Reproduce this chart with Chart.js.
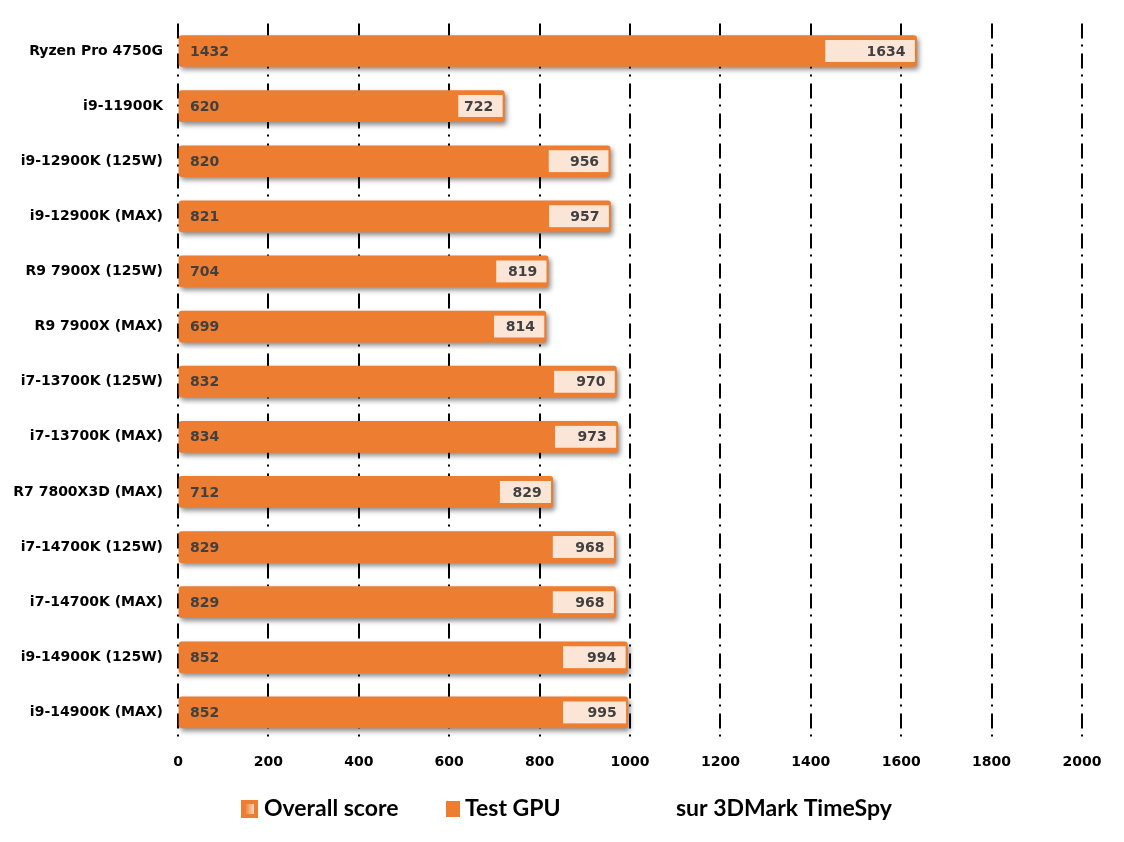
<!DOCTYPE html>
<html>
<head>
<meta charset="utf-8">
<title>3DMark TimeSpy</title>
<script src="https://cdn.jsdelivr.net/npm/chart.js@4/dist/chart.umd.min.js"></script>
<style>
    body { margin: 0; background: #fff; }
    #chart-wrap { width: 1124px; height: 842px; }
</style>
</head>
<body>
<div id="chart-wrap"><canvas id="score-chart" width="1124" height="842"></canvas></div>
<script>
// Data
const cpuLabels = [
    'Ryzen Pro 4750G', 'i9-11900K', 'i9-12900K (125W)', 'i9-12900K (MAX)',
    'R9 7900X (125W)', 'R9 7900X (MAX)', 'i7-13700K (125W)', 'i7-13700K (MAX)',
    'R7 7800X3D (MAX)', 'i7-14700K (125W)', 'i7-14700K (MAX)', 'i9-14900K (125W)',
    'i9-14900K (MAX)'
];
const overallScores = [1432, 620, 820, 821, 704, 699, 832, 834, 712, 829, 829, 852, 852];
const gpuScores = [1634, 722, 956, 957, 819, 814, 970, 973, 829, 968, 968, 994, 995];
const xMin = 0;
const xMax = 2000;
const xStep = 200;
const legendNote = 'sur 3DMark TimeSpy';

const ORANGE = '#ED7D31';
const PEACH = '#FBE5D6';
const LABEL_GREY = '#404040';

// Drop shadow under the orange bars
const barShadow = {
    id: 'barShadow',
    beforeDatasetDraw(chart, args) {
        if (args.index !== 1) return;
        const ctx = chart.ctx;
        ctx.save();
        ctx.shadowColor = 'rgba(0, 0, 0, 0.45)';
        ctx.shadowOffsetX = 2;
        ctx.shadowOffsetY = 3;
        ctx.shadowBlur = 5;
    },
    afterDatasetDraw(chart, args) {
        if (args.index !== 1) return;
        chart.ctx.restore();
    }
};

// Value labels: overall at the bar start, GPU score inside the light box
const valueLabels = {
    id: 'valueLabels',
    afterDatasetsDraw(chart) {
        const ctx = chart.ctx;
        const xScale = chart.scales.x;
        const bars = chart.getDatasetMeta(1).data;
        ctx.save();
        ctx.font = 'bold 14px "DejaVu Sans"';
        ctx.fillStyle = LABEL_GREY;
        ctx.textBaseline = 'middle';
        bars.forEach((bar, i) => {
            ctx.textAlign = 'left';
            ctx.fillText(String(overallScores[i]), xScale.getPixelForValue(0) + 12, bar.y + 1);
            ctx.textAlign = 'right';
            ctx.fillText(String(gpuScores[i]), xScale.getPixelForValue(gpuScores[i]) - 11, bar.y + 1);
        });
        ctx.restore();
    }
};

// Legend row at the bottom
const bottomLegend = {
    id: 'bottomLegend',
    afterDraw(chart) {
        const ctx = chart.ctx;
        const y = 809;
        ctx.save();

        // Overall score swatch (orange frame, light gradient inside)
        ctx.fillStyle = ORANGE;
        ctx.fillRect(241, 800, 17, 18);
        const grad = ctx.createLinearGradient(245, 0, 255, 0);
        grad.addColorStop(0, ORANGE);
        grad.addColorStop(1, PEACH);
        ctx.fillStyle = grad;
        ctx.fillRect(245, 804, 9, 10);

        // Test GPU swatch
        ctx.fillStyle = ORANGE;
        ctx.fillRect(446, 801, 14, 16);

        ctx.font = 'bold 23px Lato';
        ctx.fillStyle = '#000';
        ctx.textAlign = 'left';
        ctx.textBaseline = 'middle';
        ctx.fillText(chart.data.datasets[0].label, 264, y);
        ctx.fillText(chart.data.datasets[1].label, 465, y);
        ctx.fillText(legendNote, 676, y);
        ctx.restore();
    }
};

function buildChart() {
    const ctx = document.getElementById('score-chart').getContext('2d');
    return new Chart(ctx, {
        type: 'bar',
        data: {
            labels: cpuLabels,
            datasets: [
                {
                    label: 'Overall score',
                    data: overallScores.map((v, i) => [v, gpuScores[i]]),
                    backgroundColor: PEACH,
                    borderColor: ORANGE,
                    borderWidth: { top: 0, right: 2, bottom: 0, left: 0 },
                    borderSkipped: false,
                    barThickness: 22,
                    grouped: false
                },
                {
                    label: 'Test GPU',
                    data: gpuScores,
                    backgroundColor: ORANGE,
                    borderRadius: 3,
                    borderSkipped: false,
                    barThickness: 31,
                    grouped: false
                }
            ]
        },
        options: {
            indexAxis: 'y',
            responsive: false,
            animation: false,
            layout: {
                padding: { top: 20, right: 42, left: 0, bottom: 0 }
            },
            scales: {
                x: {
                    min: xMin,
                    max: xMax,
                    ticks: {
                        stepSize: xStep,
                        color: '#000',
                        padding: 14,
                        font: { family: 'DejaVu Sans', size: 14, weight: 'bold' },
                        callback: value => String(value)
                    },
                    grid: {
                        color: '#000',
                        lineWidth: 2,
                        drawTicks: false
                    },
                    border: {
                        display: false,
                        dash: [15, 6, 2, 7]
                    },
                    afterFit(scale) {
                        scale.height = 102;
                    }
                },
                y: {
                    ticks: {
                        color: '#000',
                        padding: 15,
                        font: { family: 'DejaVu Sans', size: 14, weight: 'bold' }
                    },
                    grid: { display: false, drawTicks: false },
                    border: { display: false },
                    afterFit(scale) {
                        scale.width = 178;
                    }
                }
            },
            plugins: {
                legend: { display: false },
                tooltip: { enabled: false }
            }
        },
        plugins: [barShadow, valueLabels, bottomLegend]
    });
}

document.addEventListener('DOMContentLoaded', buildChart);
</script>
</body>
</html>
